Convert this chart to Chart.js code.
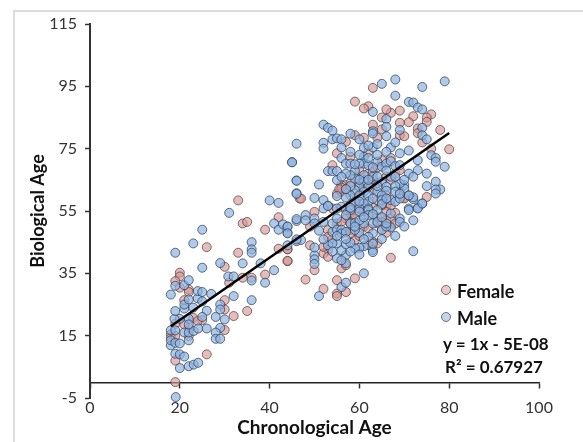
<!DOCTYPE html>
<html>
<head>
<meta charset="utf-8">
<script src="https://cdn.jsdelivr.net/npm/chart.js@4"></script>
<style>
    html, body { margin: 0; padding: 0; background: #fff; }
    #wrap { position: relative; width: 583px; height: 442px; overflow: hidden; font-family: Lato, sans-serif; }
    #frame { position: absolute; left: 13px; top: 10px; width: 600px; height: 500px; border: 2px solid #dcdcdc; }
    canvas { position: absolute; left: 0; top: 0; }
    .note { position: absolute; font-weight: bold; font-size: 17px; line-height: 20px; color: #111; white-space: nowrap; }
    .big { font-size: 18px; }
    .dot { position: absolute; width: 8px; height: 8px; border-radius: 50%; border: 1px solid #6e6e6e; }
</style>
</head>
<body>
<div id="wrap">
    <div id="frame"></div>
    <canvas id="chart" width="583" height="442"></canvas>
    <span class="dot" style="left:441px;top:285px;background:#eecbc9"></span>
    <span class="note big" style="left:457px;top:281px">Female</span>
    <span class="dot" style="left:441px;top:312px;background:#c3d6ee"></span>
    <span class="note big" style="left:457px;top:308px">Male</span>
    <span class="note" style="left:443px;top:334px">y = 1x - 5E-08</span>
    <span class="note" style="left:445px;top:357px">R² = 0.67927</span>
</div>
<script>
// values: [chronological age, biological age]
const femalePoints = [
    [19,0.1],[19,7],[26,9],[20,35.2],[20,34],[19,32.5],[20,30.4],[22,29.8],[22,29],[21,26.4],
    [26,43.4],[25,20],[23,20.7],[19,18.8],[18,15.4],[18,14.3],[22,17.5],[21,18.6],[19,14.9],[24,19.7],
    [30,37.1],[31,32],[34,33.6],[35,22.9],[36,33.6],[39,34.6],[33,41.6],[30,26.4],[30,23.4],[32,21.3],
    [30,16.8],[22,14.9],[42,42.9],[44,42.7],[44,38.9],[39,49],[34,51],[35,51.5],[33,58.4],[42,53],
    [46.7,59],[63,94.5],[59,90.1],[62,88.6],[61,87.9],[69,87.2],[67,86.5],[66,87.6],[65,85],[72,85.4],
    [76,86],[75,85],[75,83.6],[71,83.5],[69,83.3],[63,82.7],[65,81.2],[73,81.5],[73,80],[78,81],
    [69,79.3],[70,79],[74,77],[59,79.3],[61,78.5],[64,78.5],[57,77.2],[55,73.5],[80,74.8],[76,75],
    [62,74],[58,72.4],[67,72],[54,69.7],[62,67],[63,67.6],[65,71.3],[68,67],[69,68.1],[63,61.7],
    [66,56.9],[67,56.7],[64,58.5],[59,60.6],[56,63.3],[56,62],[57,63.3],[47,59],[70,59.2],[75,59.5],
    [50,54.7],[67,40],[64,44.6],[59,33.4],[55,32.8],[52,30],[48,33],[57,29],[55,28.5],[55,27.7],
    [44,39],[50,36],[53,42.5],[52,41.4],[53,40.3],[56,36.6],[57,37.6],[49,44],[44,42.7],[54,46],
    [58,48.9],[59,45.7],[55,51],[57,52.6],[65,48.9],[66,54.7],[66,52],[67,52.6],[68,54.4],[65,56.9],
    [70,59],[58,54.2],[59,52.6],[57,55.3],[55,60.6],[56,61.2],[54,55.8],[53,48.9],[61,50],[62,49.4],
    [58,51],[56,51.5],[59,53.7],[64,51],[65,51.5],[58,47.8],[53,46.7],[49,50],[52,43.5],[60,66],
    [56,62.5],[55.5,62],[57,62],[60,64],[61,63],[63,65],[64,64],[66,66],[67,65],[62,63],
    [58,64],[64,69],[60,68],[66,60],[69,61],[60,57],[63,56],[58,57],[61,55],[64,53],
    [67,50],[68,51],[60,47],[63,45],[66,48],[62,44]
];
const malePoints = [
    [19.1,-4.7],[20,4.6],[22,5.2],[23.1,5.7],[24.1,6.3],[19,9.2],[20,9],[21,8.3],[18,11.9],[18,13.5],
    [19,12.7],[20,12.5],[22,13.5],[18,16.7],[19,16.7],[21,16],[22,16],[23.1,16.5],[24.1,17.3],[26,17.3],
    [20,20.4],[18.8,20.4],[22,20.4],[22,18.6],[19,22.9],[21,23.7],[21,25],[22,26.6],[23,24],[24,27],
    [25,26],[24,29.3],[25,29],[27,28.4],[26,23],[25,21],[18,28.2],[19,31],[21,31.2],[22,32.8],
    [19,41.6],[23,44.6],[25,49],[25,36.8],[29,38.3],[30.8,34],[32,34],[34,38.2],[36,45],[36,42.7],
    [36,41.6],[38,38.2],[41,36],[39,32],[36,32.7],[32,27.7],[36,26.4],[29,25],[29,23.4],[28,21],
    [30,20.2],[29,17.5],[28,16],[28,14],[29,14],[41,51],[42,49],[43,50.7],[44,50],[44,48],
    [44,44],[46,45.3],[46,51.8],[31,54.4],[40,58.4],[42,57.6],[45,70.7],[46,76.6],[46,64.8],[46,60.7],
    [68,97.2],[65,95.8],[74,94.8],[79,96.6],[68,92],[71,90],[72,89.8],[73,88.2],[74,87.6],[63,86.8],
    [66,84.5],[66,82],[52,82.7],[53,81.7],[54,80.8],[69,81],[74,81.7],[63,80.6],[63,79.9],[66,79],
    [74,79.3],[75,78],[58,79.8],[60,78],[54,78],[55,78.3],[56,78],[52,76.9],[52,75],[56,75.4],
    [61,75.3],[63,75.4],[67,75.4],[66,74],[71,74.4],[69,73.5],[76,72.9],[77,72],[77,70.8],[73,71.3],
    [79,69.2],[45,70.6],[56,72],[53,67.8],[54,67.8],[55,67.8],[57,70.2],[58,70.2],[59,67.8],[61,72.4],
    [61,70.2],[62,69.7],[60,70.2],[64,70.8],[65,69.2],[66,70.2],[67,71],[68,69.4],[69,69.7],[73,68.1],
    [75,67],[71,67],[72,66],[70,63.3],[70,62.2],[69,63.8],[46,64.7],[51,63.5],[46,60.5],[50,59.2],
    [52,58.5],[55,64.9],[55,59.8],[75,63],[77,64.4],[78,61.9],[77,61.9],[77,60.6],[71,60],[72,58.8],
    [74,57.4],[71,55.8],[73,56],[53,56.7],[52,55.8],[61,66.5],[63,66],[59,65.4],[58,66.5],[61,64.4],
    [65,64.4],[60,62.8],[62,62.8],[66,62.8],[68,63],[59,61.7],[61,61.2],[64,61.2],[66,61.5],[68,61.2],
    [58,60],[60,60],[62,60],[65,60],[67,58.5],[65,58.5],[57,59.3],[62,58],[61,57.4],[59,58],
    [65,57.2],[68,58],[60,55.8],[62,55.8],[51,27.7],[56,30.6],[57,32],[61,35],[72,42.1],[63,42.4],
    [63,41.8],[61,43.7],[60,43.2],[59,43],[57,40.8],[57,38.2],[55,39.8],[56,39.2],[50,40.8],[50,39.5],
    [50,38],[56,42.4],[57,44.3],[58,44.8],[55,44.6],[53,44],[50,43.3],[47,45.7],[46,45.9],[44,50],
    [44,47.8],[46,52.4],[48,53.7],[48,52],[50,52.6],[50,51],[52,51.5],[51,48.7],[52,45.9],[54,48.3],
    [54,51],[55,49],[56,49],[58,51],[59,51.2],[61,51],[63,47.8],[62,46.7],[60,48],[62,55.3],
    [63,51],[65,48.9],[67,49.7],[69,52.6],[69,51.5],[72,52],[71,55.3],[73,55.8],[74,57.4],[56,56.4],
    [69,59],[72,59.4],[71,60],[64,51.5],[60,52],[53,56.6],[66,50],[55,52.6],[54,44.6],[56,47.8],
    [66,51],[62,53.7],[60,54.8],[58,55.3],[55,55.8],[57,53.7],[64,55.3],[67,54.2],[59,48.9],[57,48.3],
    [60,65],[62,65],[64,66],[67,66],[66,68],[63,69],[59,70],[62,72],[64,73],[68,66],
    [57,67],[56,66],[58,63],[57,62],[63,59],[66,59],[69,60.5],[70,65],[64,63],[60,58],
    [58,56],[63,54],[65,53],[61,53],[59,50],[61,46],[63,44.5],[65,46],[68,47],[70,50],
    [55,47],[57,46],[58,42],[60,41],[54,42],[62,76],[64,76.5],[60,73],[58,74],[68,77]
];
const trendAges = [18, 80];
const trendValues = [18, 80];
const xTicks = [0, 20, 40, 60, 80, 100];
const yTicks = [-5, 15, 35, 55, 75, 95, 115];

const toXY = p => ({ x: p[0], y: p[1] });
const axisColor = '#333333';
const labelColor = '#333333';

new Chart(document.getElementById('chart').getContext('2d'), {
    type: 'scatter',
    data: {
        datasets: [
            {
                label: 'Trend',
                data: trendAges.map((a, i) => ({ x: a, y: trendValues[i] })),
                showLine: true,
                borderColor: '#000000',
                borderWidth: 2.5,
                pointRadius: 0,
                order: 0
            },
            {
                label: 'Male',
                data: malePoints.map(toXY),
                backgroundColor: 'rgba(141,180,226,0.7)',
                borderColor: 'rgba(50,65,85,0.75)',
                borderWidth: 1,
                pointRadius: 4.5,
                clip: false,
                order: 1
            },
            {
                label: 'Female',
                data: femalePoints.map(toXY),
                backgroundColor: 'rgba(217,150,148,0.65)',
                borderColor: 'rgba(70,60,60,0.7)',
                borderWidth: 1,
                pointRadius: 4.5,
                clip: false,
                order: 2
            }
        ]
    },
    options: {
        responsive: false,
        animation: false,
        layout: { padding: { top: 24, right: 44, bottom: 44, left: 0 } },
        plugins: { legend: { display: false }, tooltip: { enabled: false } },
        scales: {
            x: {
                type: 'linear',
                min: 0,
                max: 100,
                position: { y: 0 },
                afterBuildTicks: axis => { axis.ticks = xTicks.map(v => ({ value: v })); },
                afterFit: axis => { axis.height = 57; },
                grid: { drawOnChartArea: false, tickLength: 5, color: axisColor, tickColor: axisColor, tickWidth: 1.5 },
                border: { color: '#222222', width: 1.5 },
                ticks: {
                    color: labelColor,
                    padding: 11,
                    maxRotation: 0,
                    font: { family: 'Lato', size: 16 }
                },
                title: {
                    display: true,
                    text: 'Chronological Age',
                    color: '#111111',
                    padding: 0,
                    font: { family: 'Lato', size: 19, weight: 'bold' }
                }
            },
            y: {
                type: 'linear',
                min: -5,
                max: 115,
                position: 'left',
                afterBuildTicks: axis => { axis.ticks = yTicks.map(v => ({ value: v })); },
                afterFit: axis => { axis.width = 90; },
                grid: { drawOnChartArea: false, tickLength: 5, color: axisColor, tickColor: axisColor, tickWidth: 1.5 },
                border: { color: axisColor, width: 2 },
                ticks: {
                    color: labelColor,
                    padding: 8,
                    font: { family: 'Lato', size: 16 }
                },
                title: {
                    display: true,
                    text: 'Biological Age',
                    color: '#111111',
                    padding: { top: 27, bottom: 0 },
                    font: { family: 'Lato', size: 18, weight: 'bold' }
                }
            }
        }
    }
});
</script>
</body>
</html>
